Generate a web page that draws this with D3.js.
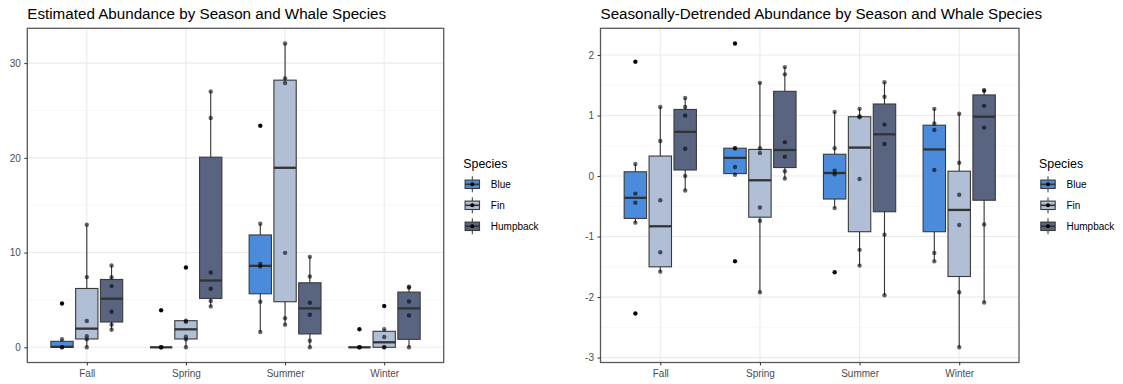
<!DOCTYPE html>
<html>
<head>
<meta charset="utf-8">
<script src="https://cdn.jsdelivr.net/npm/d3@7"></script>
<style>
  body { margin: 0; background: #fff; }
  svg { font-family: Arial, "Liberation Sans", sans-serif; display: block; }
  .tick text { fill: #4d4d4d; font-size: 10px; }
  .tick line { stroke: #333; }
</style>
</head>
<body>
<svg id="chart" width="1123" height="384"></svg>
<script>
// categories
const seasons = ['Fall', 'Spring', 'Summer', 'Winter'];
const species = ['Blue', 'Fin', 'Humpback'];
const fills = ['#4a8cdb', '#b0bed6', '#596580'];

// left plot: estimated abundance (order: season, then species)
const abundLo  = [0, 0, 1.86, 0, 0, 4.32, 1.62, 2.39, 0, 0, 0, 0];
const abundQ1  = [0, 0.88, 2.67, 0, 0.88, 5.16, 5.65, 4.81, 1.41, 0, 0, 0.84];
const abundMed = [0.05, 1.97, 5.13, 0, 1.9, 7.05, 8.6, 18.95, 4.11, 0, 0.53, 4.11];
const abundQ3  = [0.63, 6.21, 7.16, 0, 2.81, 20.07, 11.86, 28.2, 6.81, 0, 1.69, 5.83];
const abundHi  = [0.86, 12.95, 8.63, 0, 2.9, 27.0, 13.05, 32.07, 9.55, 0, 1.9, 6.4];
const abundPts = [
  [0, 0, 0.86, 4.63], [0, 0.84, 1.16, 2.78, 7.41, 12.95], [1.86, 2.39, 3.76, 6.46, 7.4, 8.63],
  [0, 0, 0, 3.9], [0, 0.84, 1.12, 2.7, 2.81, 8.42], [4.32, 4.9, 6.18, 7.9, 24.2, 27.0],
  [1.62, 4.81, 8.53, 8.8, 13.05, 23.4], [2.39, 3.06, 9.97, 27.9, 28.39, 32.07], [0, 0.7, 3.44, 4.7, 7.47, 9.55],
  [0, 0, 0, 1.9], [0, 0, 1.09, 1.9, 4.35], [0, 3.37, 4.84, 6.32, 6.4]
];
const abundTicks = [0, 10, 20, 30];
const abundMinor = [5, 15, 25];

// right plot: seasonally-detrended abundance
const detLo  = [-0.77, -1.58, -0.24, 0.02, -1.92, -0.04, -0.53, -1.48, -1.97, -1.41, -2.83, -2.09];
const detQ1  = [-0.70, -1.50, 0.10, 0.04, -0.68, 0.14, -0.38, -0.92, -0.59, -0.92, -1.66, -0.40];
const detMed = [-0.36, -0.83, 0.73, 0.30, -0.07, 0.43, 0.05, 0.47, 0.69, 0.44, -0.56, 0.98];
const detQ3  = [0.07, 0.33, 1.10, 0.46, 0.44, 1.40, 0.36, 0.98, 1.19, 0.84, 0.08, 1.34];
const detHi  = [0.20, 1.14, 1.29, 0.46, 1.54, 1.80, 1.06, 1.11, 1.55, 1.11, 1.03, 1.42];
const detPts = [
  [-2.27, -0.77, -0.44, -0.29, 0.2, 1.89], [-1.58, -1.26, -0.4, 0.58, 1.14], [-0.24, 0, 0.45, 1.0, 1.14, 1.29],
  [-1.41, 0.02, 0.15, 0.46, 0.46, 2.19], [-1.92, -0.74, -0.52, 0.38, 0.46, 1.54], [-0.04, 0.08, 0.32, 0.56, 1.68, 1.8],
  [-1.59, -0.53, 0.03, 0.09, 0.46, 1.06], [-1.48, -1.22, -0.05, 0.97, 0.99, 1.11], [-1.97, -0.97, 0.53, 0.85, 1.31, 1.55],
  [-1.41, -1.27, 0.1, 0.76, 0.87, 1.11], [-2.83, -1.92, -0.81, -0.31, 0.22, 1.03], [-2.09, -0.8, 0.8, 1.16, 1.41, 1.42]
];
const detTicks = [-3, -2, -1, 0, 1, 2];
const detMinor = [-2.5, -1.5, -0.5, 0.5, 1.5];

const svg = d3.select('#chart');

function makePanel({
  left, right, top = 28.3, bottom = 362.5,
  title, lo, q1, med, q3, hi, pts, ticks, minor, legendX
}) {
  //---------build groups from the arrays------------------
  const groups = [];
  seasons.forEach((s, i) => species.forEach((sp, j) => {
    const k = i * species.length + j;
    groups.push({season: s, species: sp, lo: lo[k], q1: q1[k], med: med[k], q3: q3[k], hi: hi[k], pts: pts[k]});
  }));

  //---------scales----------------------------------------
  const all = groups.flatMap(g => g.pts.concat([g.lo, g.hi]));
  const ext = d3.extent(all), pad = (ext[1] - ext[0]) * 0.05;
  const y = d3.scaleLinear().domain([ext[0] - pad, ext[1] + pad]).range([bottom, top]);
  const x = d3.scalePoint().domain(seasons).range([left, right]).padding(0.6);
  const step = x.step();
  const dodge = d3.scalePoint().domain(species).range([-0.25 * step, 0.25 * step]);
  const boxW = 0.225 * step;
  const color = d3.scaleOrdinal().domain(species).range(fills);
  const cx = g => x(g.season) + dodge(g.species);

  const g = svg.append('g');

  //---------grid------------------------------------------
  g.selectAll('line.minor').data(minor).join('line')
      .attr('x1', left).attr('x2', right)
      .attr('y1', d => y(d)).attr('y2', d => y(d))
      .attr('stroke', '#f4f4f4').attr('stroke-width', 0.7);
  g.selectAll('line.major').data(ticks).join('line')
      .attr('x1', left).attr('x2', right)
      .attr('y1', d => y(d)).attr('y2', d => y(d))
      .attr('stroke', '#ebebeb').attr('stroke-width', 1.1);
  g.selectAll('line.vgrid').data(seasons).join('line')
      .attr('x1', d => x(d)).attr('x2', d => x(d))
      .attr('y1', top).attr('y2', bottom)
      .attr('stroke', '#ebebeb').attr('stroke-width', 1.1);

  //---------boxes-----------------------------------------
  const box = g.selectAll('g.box').data(groups).join('g');
  box.append('line')
      .attr('x1', cx).attr('x2', cx)
      .attr('y1', d => y(d.hi)).attr('y2', d => y(d.lo))
      .attr('stroke', '#333').attr('stroke-width', 1.1);
  box.append('rect')
      .attr('x', d => cx(d) - boxW / 2).attr('width', boxW)
      .attr('y', d => y(d.q3)).attr('height', d => y(d.q1) - y(d.q3))
      .attr('fill', d => color(d.species))
      .attr('stroke', '#3a3a3a').attr('stroke-width', 1.1);
  box.append('line')
      .attr('x1', d => cx(d) - boxW / 2).attr('x2', d => cx(d) + boxW / 2)
      .attr('y1', d => y(d.med)).attr('y2', d => y(d.med))
      .attr('stroke', '#333').attr('stroke-width', 2.3);

  // outliers (beyond whiskers) in solid black
  box.selectAll('circle.out')
    .data(d => d.pts.filter(v => v < d.lo - 1e-6 || v > d.hi + 1e-6).map(v => ({v, g: d})))
    .join('circle')
      .attr('cx', d => cx(d.g)).attr('cy', d => y(d.v))
      .attr('r', 2).attr('fill', '#000');
  // raw points
  box.selectAll('circle.pt')
    .data(d => d.pts.map(v => ({v, g: d})))
    .join('circle')
      .attr('cx', d => cx(d.g)).attr('cy', d => y(d.v))
      .attr('r', 2.2).attr('fill', '#000').attr('fill-opacity', 0.6);

  //---------border & axes---------------------------------
  g.append('rect')
      .attr('x', left).attr('y', top)
      .attr('width', right - left).attr('height', bottom - top)
      .attr('fill', 'none').attr('stroke', '#595959').attr('stroke-width', 1.3);

  g.append('g')
      .attr('transform', 'translate(0,' + bottom + ')')
      .call(d3.axisBottom(x).tickSize(3).tickPadding(4).tickSizeOuter(0))
      .call(a => a.select('.domain').remove());
  g.append('g')
      .attr('transform', 'translate(' + left + ',0)')
      .call(d3.axisLeft(y).tickValues(ticks).tickFormat(d => String(d))
              .tickSize(3).tickPadding(3.5).tickSizeOuter(0))
      .call(a => a.select('.domain').remove());

  //---------title-----------------------------------------
  svg.append('text')
      .attr('x', left).attr('y', 19.3)
      .style('font-size', '15.2px').style('fill', '#000')
      .text(title);

  //---------legend----------------------------------------
  const lg = svg.append('g');
  lg.append('text')
      .attr('x', legendX).attr('y', 167.5)
      .style('font-size', '12.4px')
      .text('Species');
  const keyX = legendX + 9;
  const key = lg.selectAll('g.key').data(species).join('g')
      .attr('transform', (d, i) => 'translate(' + keyX + ',' + (184.3 + i * 21) + ')');
  key.append('line')
      .attr('y1', -8).attr('y2', 8)
      .attr('stroke', '#333').attr('stroke-width', 1);
  key.append('rect')
      .attr('x', -7.2).attr('y', -4.2).attr('width', 14.4).attr('height', 8.4)
      .attr('fill', d => color(d))
      .attr('stroke', '#3a3a3a').attr('stroke-width', 1.1);
  key.append('line')
      .attr('x1', -7.2).attr('x2', 7.2)
      .attr('stroke', '#333').attr('stroke-width', 1.6);
  key.append('circle')
      .attr('r', 2).attr('fill', '#000');
  key.append('text')
      .attr('x', 18.5).attr('dy', '0.35em')
      .style('font-size', '10px')
      .text(d => d);
}

makePanel({
  left: 27.3, right: 443.7,
  title: 'Estimated Abundance by Season and Whale Species',
  lo: abundLo, q1: abundQ1, med: abundMed, q3: abundQ3, hi: abundHi, pts: abundPts,
  ticks: abundTicks, minor: abundMinor, legendX: 463.3
});

makePanel({
  left: 600.5, right: 1019,
  title: 'Seasonally-Detrended Abundance by Season and Whale Species',
  lo: detLo, q1: detQ1, med: detMed, q3: detQ3, hi: detHi, pts: detPts,
  ticks: detTicks, minor: detMinor, legendX: 1039
});
</script>
</body>
</html>
